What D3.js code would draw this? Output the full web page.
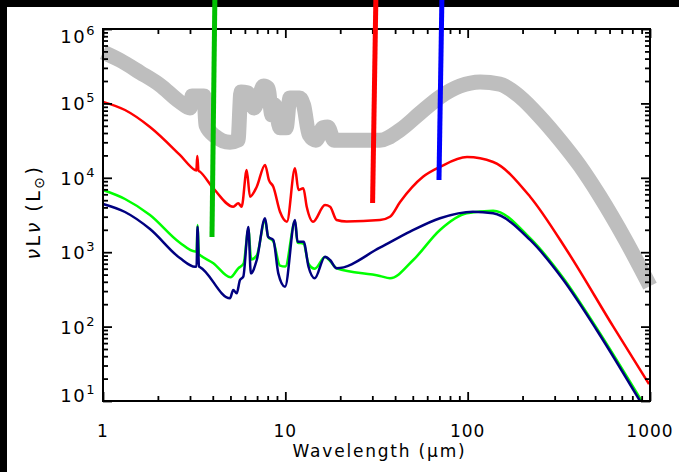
<!DOCTYPE html>
<html>
<head>
<meta charset="utf-8">
<script src="https://cdn.jsdelivr.net/npm/d3@7"></script>
<style>
  body { margin: 0; background: #fff; }
  text { font-family: "DejaVu Sans", sans-serif; fill: #000; }
</style>
</head>
<body>
<div id="chart"></div>
<script>
// wavelength in micron, nuLnu in Lsun
const grayWave = [1, 1.24, 1.6, 2.05, 2.64, 3.0, 3.08, 3.58, 3.67, 4.11, 4.97, 5.5, 5.71, 6.2, 6.73, 7.08, 7.6, 8.03, 8.44, 8.75, 9.35, 10.1, 10.6, 12.0, 12.6, 13.5, 14.7, 16.1, 17.1, 18.5, 22.6, 33, 42.6, 54.8, 70.5, 90.8, 117, 150, 194, 249, 321, 413, 532, 729, 1000];
const grayLum = [4.9e5, 3.8e5, 2.6e5, 1.77e5, 1.05e5, 8.7e4, 1.26e5, 1.26e5, 5.1e4, 3.65e4, 3.0e4, 3.2e4, 1.42e5, 1.39e5, 8.7e4, 1.11e5, 1.71e5, 1.61e5, 7.0e4, 9.5e4, 4.7e4, 4.7e4, 1.18e5, 1.18e5, 9.5e4, 3.8e4, 3.2e4, 4.7e4, 4.8e4, 3.2e4, 3.2e4, 3.2e4, 4.4e4, 7.4e4, 1.22e5, 1.71e5, 1.94e5, 1.82e5, 1.22e5, 6.6e4, 3.2e4, 1.44e4, 5.6e3, 1.5e3, 350];

const redWave = [1, 1.32, 1.81, 2.64, 3.20, 3.25, 3.29, 3.34, 3.40, 4.03, 5.18, 5.52, 5.76, 6.14, 6.40, 6.97, 7.74, 8.13, 8.59, 9.35, 10.2, 11.3, 11.8, 12.55, 13.1, 14.2, 16.5, 17.6, 19.1, 21.7, 33, 37.5, 42.6, 56.9, 70.5, 99.2, 138, 220, 349, 629, 988];
const redLum = [1.05e5, 8.15e4, 4.82e4, 2.03e4, 1.27e4, 1.25e4, 1.96e4, 1.25e4, 1.21e4, 7.23e3, 4.09e3, 4.54e3, 4.09e3, 1.27e4, 5.57e3, 7.59e3, 1.49e4, 9.3e3, 7.59e3, 3.50e3, 2.57e3, 1.34e4, 6.85e3, 7.23e3, 4.09e3, 2.57e3, 4.31e3, 4.09e3, 2.71e3, 2.59e3, 2.71e3, 3.0e3, 4.73e3, 1.03e4, 1.40e4, 1.90e4, 1.63e4, 5.57e3, 1.07e3, 99.7, 16.9];

const greenWave = [1, 1.32, 1.81, 2.64, 3.20, 3.26, 3.30, 3.36, 3.40, 4.03, 5.0, 5.52, 5.9, 6.27, 6.5, 6.97, 7.74, 8.05, 8.59, 9.35, 10.0, 11.3, 11.66, 12.6, 13.4, 14.5, 16.5, 17.6, 19.1, 33, 37.5, 50.3, 70.5, 98.8, 138, 220, 335, 510, 900];
const greenLum = [6.85e3, 5.19e3, 3.16e3, 1.34e3, 1.02e3, 1.02e3, 2.32e3, 940, 917, 710, 460, 608, 700, 2.0e3, 800, 900, 2.7e3, 1.6e3, 1.4e3, 660, 640, 2.6e3, 1.35e3, 1.3e3, 700, 600, 860, 760, 608, 480, 446, 785, 1.99e3, 3.33e3, 3.61e3, 1.54e3, 446, 95, 10];

const navyWave = [1, 1.32, 1.81, 2.64, 3.20, 3.26, 3.30, 3.36, 3.40, 4.97, 5.18, 5.41, 5.64, 5.88, 6.27, 6.47, 6.97, 7.74, 8.05, 8.59, 9.15, 9.96, 11.3, 11.66, 12.6, 13.4, 14.5, 16.5, 17.6, 19.1, 33, 48.3, 70.5, 107, 138, 220, 335, 510, 881];
const navyLum = [4.45e3, 3.47e3, 2.05e3, 836, 638, 640, 2.2e3, 640, 632, 240, 311, 280, 423, 469, 2.18e3, 520, 785, 2.86e3, 1.61e3, 1.46e3, 520, 344, 2.71e3, 1.38e3, 1.38e3, 638, 446, 871, 785, 608, 1.15e3, 1.89e3, 2.86e3, 3.50e3, 3.33e3, 1.46e3, 423, 90, 10];

// the three thick vertical bars (bottom end and top end)
const barColor = ["#00c000", "#ff0000", "#0000ff"];
const barWaveLow = [3.96, 30.1, 69.6];
const barWaveHigh = [4.11, 31.4, 72.3];
const barLumLow = [1.6e3, 4.58e3, 9.34e3];
const barLumHigh = [3e6, 3e6, 3e6];

const xTicks = [1, 10, 100, 1000];
const yTicks = [1e1, 1e2, 1e3, 1e4, 1e5, 1e6];

const width = 679, height = 472;
const plotL = 103, plotR = 650, plotT = 29, plotB = 401;

const svg = d3.select("#chart").append("svg")
  .attr("width", width)
  .attr("height", height);

const x = d3.scaleLog().domain([1, 1000]).range([plotL, plotR]);
const y = d3.scaleLog().domain([10, 1e6]).range([plotB, plotT]);

const line = d3.line()
  .x(d => x(d[0]))
  .y(d => y(d[1]))
  .curve(d3.curveMonotoneX);

const series = [
  { wave: grayWave, lum: grayLum, color: "#bebebe", w: 15 },
  { wave: redWave, lum: redLum, color: "#ff0000", w: 2.5 },
  { wave: greenWave, lum: greenLum, color: "#00ff00", w: 2.5 },
  { wave: navyWave, lum: navyLum, color: "#000080", w: 2.5 }
];

series.forEach(s => {
  svg.append("path")
    .datum(d3.zip(s.wave, s.lum))
    .attr("d", line)
    .attr("fill", "none")
    .attr("stroke", s.color)
    .attr("stroke-width", s.w)
    .attr("stroke-linejoin", "round");
});

// black strips along the top and left edge
svg.append("rect").attr("x", 0).attr("y", 0).attr("width", width).attr("height", 7).attr("fill", "#000");
svg.append("rect").attr("x", 0).attr("y", 0).attr("width", 7).attr("height", height).attr("fill", "#000");

// axes: ticks pointing inward on all four sides
const major = v => Math.abs(Math.log10(v) - Math.round(Math.log10(v))) < 1e-6;
const xMinor = x.ticks().filter(v => !major(v));
const yMinor = y.ticks().filter(v => !major(v));

function drawAxis(axis, tx, ty) {
  const g = svg.append("g")
    .attr("transform", `translate(${tx},${ty})`)
    .call(axis);
  g.selectAll("text").remove();
  g.select(".domain").remove();
  g.selectAll("line").attr("stroke", "#000").attr("stroke-width", 1.8);
}

drawAxis(d3.axisBottom(x).tickValues(xTicks).tickSize(-9), 0, plotB);
drawAxis(d3.axisBottom(x).tickValues(xMinor).tickSize(-5), 0, plotB);
drawAxis(d3.axisTop(x).tickValues(xTicks).tickSize(-9), 0, plotT);
drawAxis(d3.axisTop(x).tickValues(xMinor).tickSize(-5), 0, plotT);
drawAxis(d3.axisLeft(y).tickValues(yTicks).tickSize(-9), plotL, 0);
drawAxis(d3.axisLeft(y).tickValues(yMinor).tickSize(-5), plotL, 0);
drawAxis(d3.axisRight(y).tickValues(yTicks).tickSize(-9), plotR, 0);
drawAxis(d3.axisRight(y).tickValues(yMinor).tickSize(-5), plotR, 0);

svg.append("rect")
  .attr("x", plotL).attr("y", plotT)
  .attr("width", plotR - plotL).attr("height", plotB - plotT)
  .attr("fill", "none")
  .attr("stroke", "#000")
  .attr("stroke-width", 2);

// tick labels
svg.selectAll(".xlab")
  .data(xTicks)
  .join("text")
  .attr("class", "xlab")
  .attr("x", d => x(d))
  .attr("y", 437)
  .attr("text-anchor", "middle")
  .attr("font-size", 17)
  .attr("letter-spacing", 1)
  .text(d => d);

const ylab = svg.selectAll(".ylab")
  .data(yTicks)
  .join("text")
  .attr("class", "ylab")
  .attr("x", 96)
  .attr("y", d => Math.min(Math.max(y(d) + 7, plotT + 14), plotB + 1))
  .attr("text-anchor", "end")
  .attr("font-size", 18)
  .attr("letter-spacing", 1.5);
ylab.append("tspan").text("10");
ylab.append("tspan")
  .attr("dy", -8)
  .attr("font-size", 13)
  .text(d => Math.round(Math.log10(d)));

// axis titles
svg.append("text")
  .attr("x", (plotL + plotR) / 2 + 3)
  .attr("y", 457)
  .attr("text-anchor", "middle")
  .attr("font-size", 17)
  .attr("letter-spacing", 1.8)
  .text("Wavelength (\u03bcm)");

const yt = svg.append("text")
  .attr("transform", "translate(40,212) rotate(-90)")
  .attr("text-anchor", "middle")
  .attr("font-size", 19)
  .attr("letter-spacing", 2.5);
yt.append("tspan").attr("font-style", "italic").text("\u03bd");
yt.append("tspan").text("L");
yt.append("tspan").attr("font-style", "italic").text("\u03bd");
yt.append("tspan").text(" (L");
yt.append("tspan").attr("dy", 4).attr("font-size", 14).text("\u2299");
yt.append("tspan").attr("dy", -4).text(")");

// thick vertical bars drawn last, over the frame and the black strip
svg.selectAll(".bar")
  .data(barColor)
  .join("line")
  .attr("class", "bar")
  .attr("x1", (d, i) => x(barWaveLow[i]))
  .attr("y1", (d, i) => y(barLumLow[i]))
  .attr("x2", (d, i) => x(barWaveHigh[i]))
  .attr("y2", (d, i) => y(barLumHigh[i]))
  .attr("stroke", d => d)
  .attr("stroke-width", 5);
</script>
</body>
</html>
